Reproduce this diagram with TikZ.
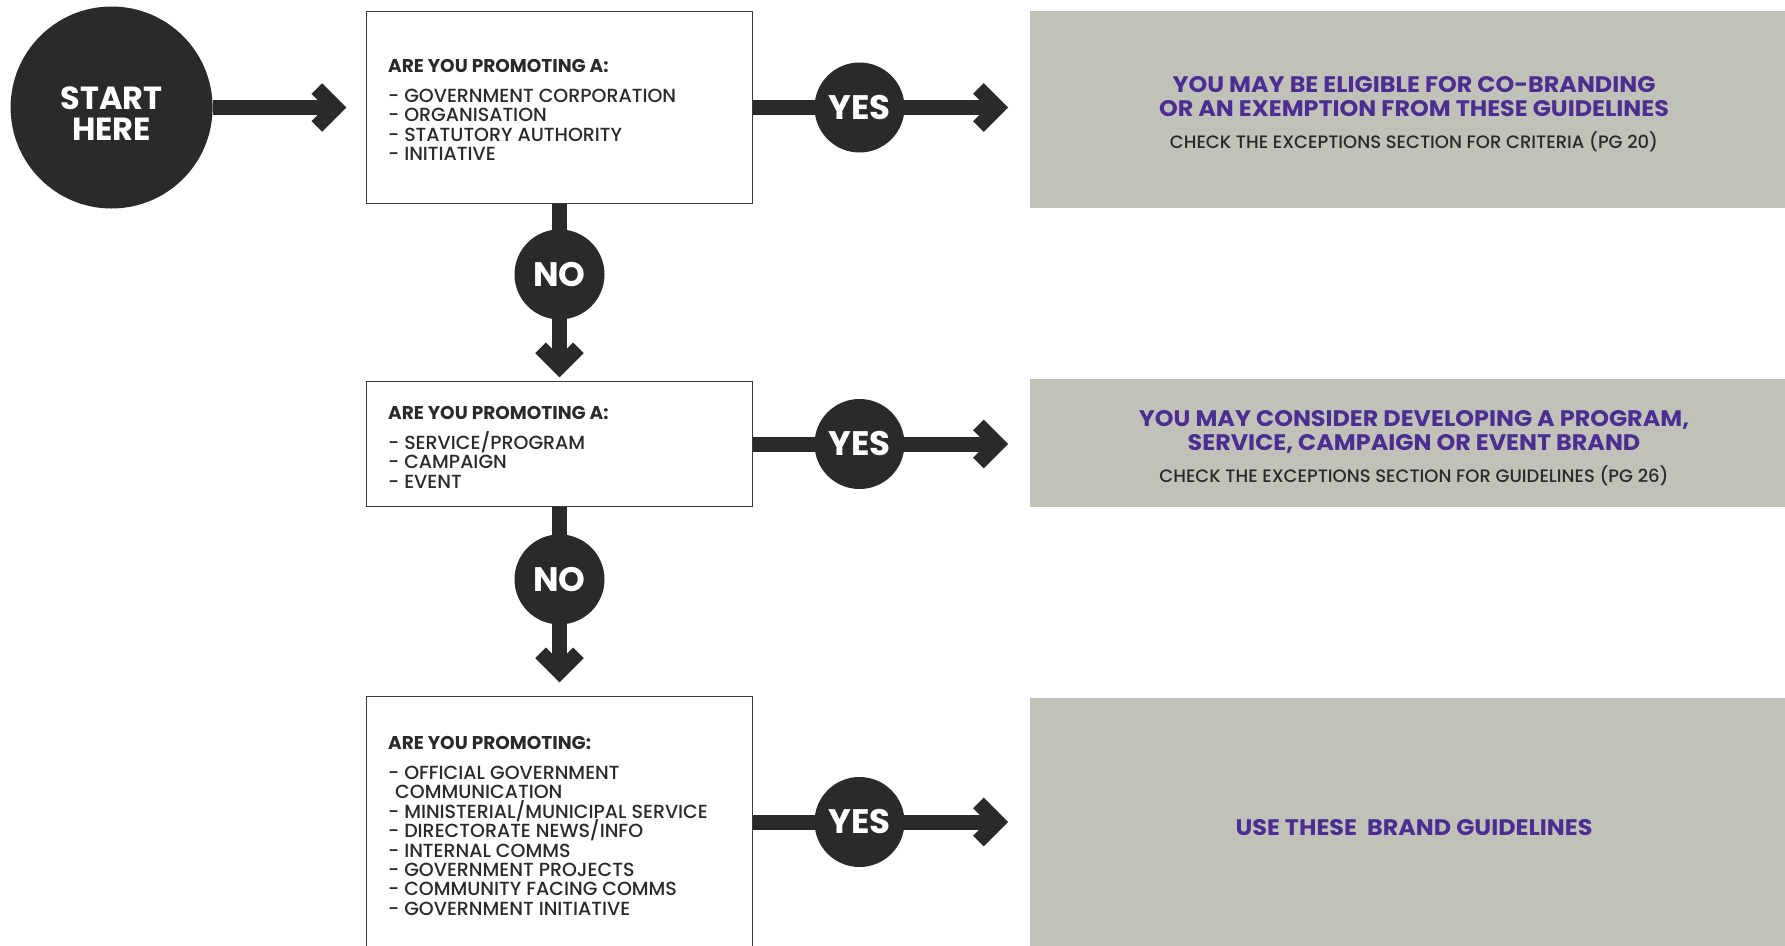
\documentclass[tikz,border=0pt]{standalone}
\usepackage{fontspec}
\setmainfont{Poppins}
\newfontfamily\medfont{Poppins Medium}
\newfontfamily\widefont{Poppins}[FakeStretch=1.06]
\usetikzlibrary{calc}
\definecolor{dark}{HTML}{2B2A2A}
\definecolor{panel}{HTML}{C2C1B9}
\definecolor{purp}{HTML}{4B2E91}
\definecolor{boxline}{HTML}{3A3A3A}
\newcommand\tightlines{\setlength{\lineskiplimit}{-20pt}\setlength{\lineskip}{0pt}}
\begin{document}
\begin{tikzpicture}[x=1pt,y=-1pt,
  qbox/.style={draw=boxline, line width=1.2pt, fill=white, inner sep=0pt},
  panelbox/.style={fill=panel, inner sep=0pt},
  yesno/.style={circle, fill=dark, text=white, inner sep=0pt, minimum size=90pt,
    font=\fontsize{34}{34}\selectfont\bfseries},
  shaft/.style={draw=dark, line width=15pt},
  listtext/.style={anchor=north west, inner sep=0pt, align=left, text=dark,
    font=\medfont\fontsize{19}{19.4}\selectfont,
    execute at begin node=\tightlines},
  headline/.style={anchor=base, inner sep=0pt, text=purp,
    font=\widefont\bfseries\fontsize{22.5}{24}\selectfont},
  checkline/.style={anchor=base, inner sep=0pt, text=dark,
    font=\medfont\fontsize{18}{19}\selectfont},
  pics/chevR/.style={code={\draw[dark, line width=15pt, line join=miter]
      (-29.6,-19) -- (-10.6,0) -- (-29.6,19);}},
  pics/chevD/.style={code={\draw[dark, line width=15pt, line join=miter]
      (-19,-29.6) -- (0,-10.6) -- (19,-29.6);}}
]
\newcommand\qtitle[1]{{\rmfamily\bfseries\fontsize{18.5}{19.4}\selectfont #1}}
\useasboundingbox (0,0) rectangle (1785,945);
\fill[white] (0,0) rectangle (1785,945);

% question boxes
\node[qbox, minimum width=385.9pt, minimum height=192.4pt] (box1) at (559.5,107.5) {};
\node[qbox, minimum width=385.9pt, minimum height=125.2pt] (box2) at (559.5,444) {};
\node[qbox, minimum width=385.9pt, minimum height=250.6pt] (box3) at (559.5,822) {};

% answer panels
\node[panelbox, minimum width=760pt, minimum height=196.6pt] (gray1) at (1410,109.7) {};
\node[panelbox, minimum width=760pt, minimum height=127.6pt] (gray2) at (1410,442.8) {};
\node[panelbox, minimum width=760pt, minimum height=252pt] (gray3) at (1410,824) {};

% start circle
\node[circle, fill=dark, inner sep=0pt, minimum size=202pt] (start) at (111.6,107.5) {};
\node[inner sep=0pt, align=center, text=white,
  font=\fontsize{32}{31}\selectfont\bfseries] (starttext) at ([yshift=-6pt]start.center) {START\\HERE};

% box texts
\node[listtext] (q1) at (388,59.5) {\qtitle{ARE YOU PROMOTING A:}\\[10.2pt]
- GOVERNMENT CORPORATION\\
- ORGANISATION\\
- STATUTORY AUTHORITY\\
- INITIATIVE};
\node[listtext] (q2) at (388,406.5) {\qtitle{ARE YOU PROMOTING A:}\\[10.2pt]
- SERVICE/PROGRAM\\
- CAMPAIGN\\
- EVENT};
\node[listtext] (q3) at (388,736.5) {\qtitle{ARE YOU PROMOTING:}\\[10.2pt]
- OFFICIAL GOVERNMENT\\
\hspace*{7pt}COMMUNICATION\\
- MINISTERIAL/MUNICIPAL SERVICE\\
- DIRECTORATE NEWS/INFO\\
- INTERNAL COMMS\\
- GOVERNMENT PROJECTS\\
- COMMUNITY FACING COMMS\\
- GOVERNMENT INITIATIVE};

% panel texts
\node[headline] (a1a) at (1414,92.5) {YOU MAY BE ELIGIBLE FOR CO-BRANDING};
\node[headline] (a1b) at (1414,116.5) {OR AN EXEMPTION FROM THESE GUIDELINES};
\node[checkline] (a1c) at (1414,148) {CHECK THE EXCEPTIONS SECTION FOR CRITERIA (PG 20)};
\node[headline] (a2a) at (1414,426.5) {YOU MAY CONSIDER DEVELOPING A PROGRAM,};
\node[headline] (a2b) at (1414,450.5) {SERVICE, CAMPAIGN OR EVENT BRAND};
\node[checkline] (a2c) at (1414,482) {CHECK THE EXCEPTIONS SECTION FOR GUIDELINES (PG 26)};
\node[headline] (a3a) at (1414,835) {USE THESE \ BRAND GUIDELINES};

% arrow tips
\coordinate (t1) at ($(box1.west)+(-19.6,0)$);
\coordinate (t2) at ($(box1.east)+(255,0)$);
\coordinate (t3) at ($(box2.east)+(255,0)$);
\coordinate (t4) at ($(box3.east)+(255,0)$);
\coordinate (t5) at ($(box2.north)+(0,-3.4)$);
\coordinate (t6) at ($(box3.north)+(0,-13.7)$);

% connectors
\draw[shaft] (start.east) -- ([xshift=-11pt]t1);
\draw[shaft] (box1.east) -- ([xshift=-11pt]t2);
\draw[shaft] (box2.east) -- ([xshift=-11pt]t3);
\draw[shaft] (box3.east) -- ([xshift=-11pt]t4);
\draw[shaft] (box1.south) -- ([yshift=11pt]t5);
\draw[shaft] (box2.south) -- ([yshift=11pt]t6);
\pic at (t1) {chevR};
\pic at (t2) {chevR};
\pic at (t3) {chevR};
\pic at (t4) {chevR};
\pic at (t5) {chevD};
\pic at (t6) {chevD};

% decision labels
\node[yesno] (yes1) at (859.5,107.5) {YES};
\node[yesno] (yes2) at (859.5,444) {YES};
\node[yesno] (yes3) at (859.5,822) {YES};
\node[yesno] (no1) at (559.5,274.4) {NO};
\node[yesno] (no2) at (559.5,579.4) {NO};
\end{tikzpicture}
\end{document}
